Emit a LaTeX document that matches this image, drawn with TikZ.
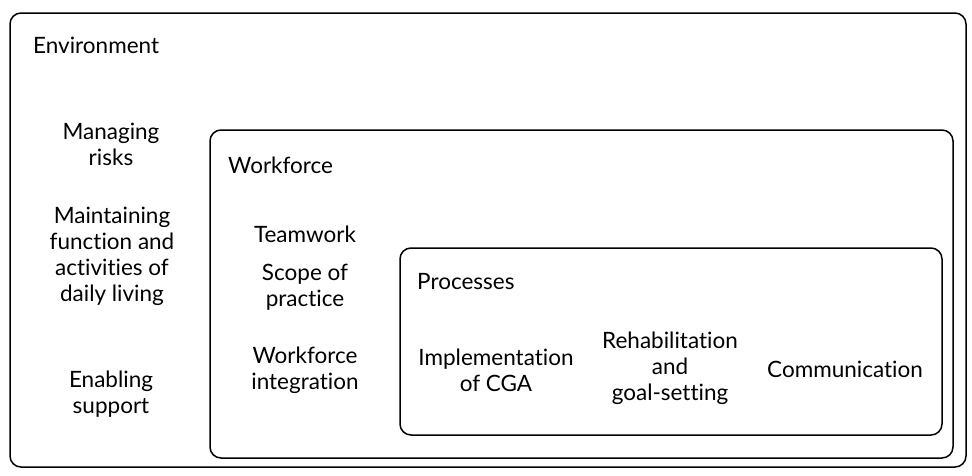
\documentclass[tikz,border=0pt]{standalone}
\usepackage{fontspec}
\setmainfont{Lato}[Ligatures=NoCommon]
\begin{document}
\begin{tikzpicture}[x=1pt,y=-1pt,
    layer/.style={draw, line width=1.5pt, rounded corners=11pt},
    lbl/.style={font=\fontsize{22.5}{26}\selectfont, inner sep=0pt, align=center},
    head/.style={lbl, anchor=west}]
	\useasboundingbox (0,0) rectangle (972,475);

	%The three nested layers
	\draw[layer] (10,13) rectangle (966,467);
	\draw[layer] (210,130) rectangle (953,458);
	\draw[layer] (400,248) rectangle (942,435);

	%Environment
	\node[head] (env) at (33,45) {Environment};
	\node[lbl] (risks) at (111,144) {Managing\\risks};
	\node[lbl] (adl) at (112,256) {Maintaining\\function and\\activities of\\daily living};
	\node[lbl] (support) at (111,394) {Enabling\\support};

	%Workforce
	\node[head] (wf) at (228,165) {Workforce};
	\node[lbl] (team) at (305,234) {Teamwork};
	\node[lbl] (scope) at (305,287) {Scope of\\practice};
	\node[lbl] (integ) at (305,370) {Workforce\\integration};

	%Processes
	\node[head] (proc) at (417,282) {Processes};
	\node[lbl] (cga) at (496,370) {Implementation\\of CGA};
	\node[lbl] (rehab) at (670,368) {Rehabilitation\\and\\goal-setting};
	\node[lbl] (comm) at (845,369) {Communication};

\end{tikzpicture}
\end{document}
